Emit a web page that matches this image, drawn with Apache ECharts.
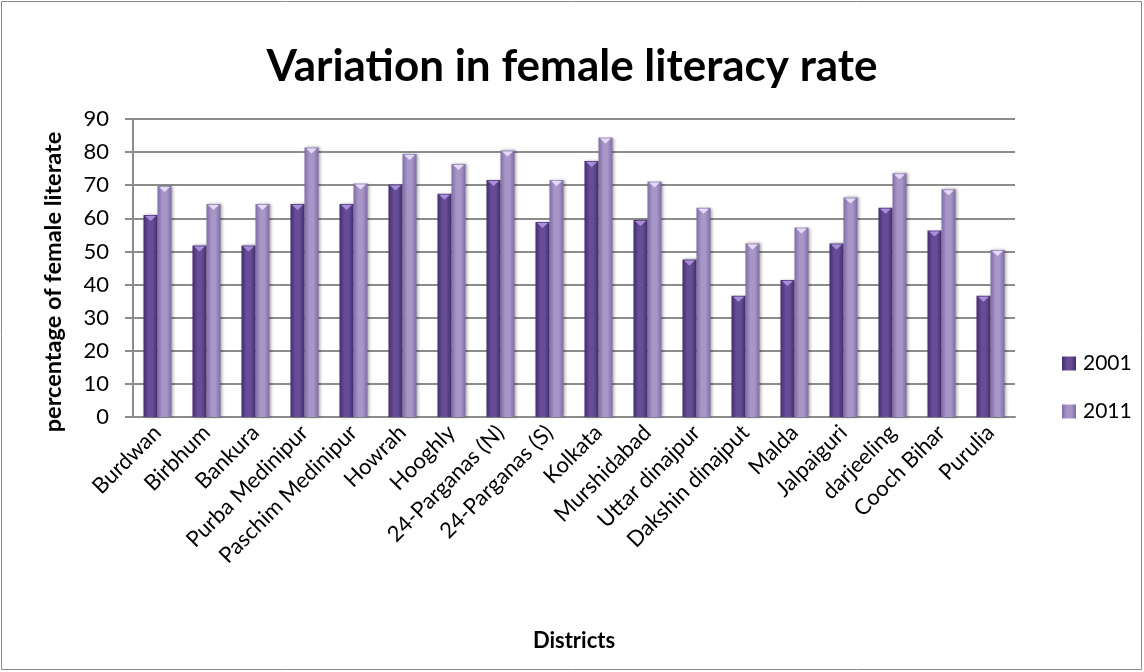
<!DOCTYPE html>
<html>
<head>
<meta charset="utf-8">
<script src="https://cdn.jsdelivr.net/npm/echarts@6/dist/echarts.min.js"></script>
<style>
  html, body { margin: 0; padding: 0; background: #fff; }
  #chart { width: 1144px; height: 672px; }
</style>
</head>
<body>
<div id="chart"></div>
<script>
// Districts of West Bengal
const districts = [
  'Burdwan', 'Birbhum', 'Bankura', 'Purba Medinipur', 'Paschim Medinipur',
  'Howrah', 'Hooghly', '24-Parganas (N)', '24-Parganas (S)', 'Kolkata',
  'Murshidabad', 'Uttar dinajpur', 'Dakshin dinajput', 'Malda', 'Jalpaiguri',
  'darjeeling', 'Cooch Bihar', 'Purulia'
];

// Female literacy rate (%) by census year
const rate2001 = [61.0, 51.8, 51.8, 64.3, 64.3, 70.2, 67.4, 71.6, 58.9, 77.3,
                  59.5, 47.6, 36.6, 41.4, 52.4, 63.2, 56.3, 36.6];
const rate2011 = [69.8, 64.3, 64.3, 81.4, 70.5, 79.4, 76.4, 80.5, 71.6, 84.4,
                  71.1, 63.2, 52.4, 57.2, 66.3, 73.6, 68.8, 50.4];

const seriesNames = ['2001', '2011'];
const yTicks = { min: 0, max: 90, interval: 10 };

const FONT = 'Lato, "Open Sans", sans-serif';

function bevel(edge, mid) {
  return new echarts.graphic.LinearGradient(0, 0, 1, 0, [
    { offset: 0, color: edge },
    { offset: 0.35, color: mid },
    { offset: 0.65, color: mid },
    { offset: 1, color: edge }
  ]);
}

const fill2001 = bevel('#432d6c', '#674c98');
const fill2011 = bevel('#7f6ca3', '#a896c8');

const chart = echarts.init(document.getElementById('chart'));

function barSeries(name, data, fill) {
  return {
    name: name,
    type: 'bar',
    data: data,
    barWidth: 14,
    barGap: '0%',
    itemStyle: {
      color: fill,
      shadowColor: 'rgba(0,0,0,0.35)',
      shadowBlur: 3,
      shadowOffsetX: 1.5,
      shadowOffsetY: 0
    },
    z: 2
  };
}

// small downward caps at the top of each bar
function capSeries(data, color, dx) {
  return {
    type: 'pictorialBar',
    data: data,
    symbol: 'triangle',
    symbolRotate: 180,
    symbolSize: [11, 5],
    symbolPosition: 'end',
    symbolOffset: [dx, 1],
    itemStyle: { color: color },
    silent: true,
    z: 3
  };
}

chart.setOption({
  animation: false,
  backgroundColor: '#ffffff',
  graphic: [{
    type: 'rect',
    shape: { x: 1.5, y: 1.5, width: 1140, height: 668 },
    style: { fill: 'none', stroke: '#8a8a8a', lineWidth: 1 },
    silent: true
  }],
  title: {
    text: 'Variation in female literacy rate',
    left: 'center',
    top: 40,
    textStyle: { fontFamily: FONT, fontWeight: 'bold', fontSize: 44, color: '#000' }
  },
  legend: {
    data: seriesNames,
    orient: 'vertical',
    left: 1057,
    top: 348,
    icon: 'rect',
    itemWidth: 14,
    itemHeight: 14,
    itemGap: 27,
    textStyle: { fontFamily: FONT, fontSize: 21, color: '#000', padding: [0, 0, 0, 2] }
  },
  grid: { left: 133, right: 129, top: 119, bottom: 255, containLabel: false },
  xAxis: {
    type: 'category',
    data: districts,
    name: 'Districts',
    nameLocation: 'middle',
    nameGap: 213,
    nameTextStyle: { fontFamily: FONT, fontWeight: 'bold', fontSize: 22, color: '#000' },
    axisLine: { lineStyle: { color: '#8c8c8c', width: 2 } },
    axisTick: { show: false },
    axisLabel: {
      rotate: 45,
      interval: 0,
      margin: 12,
      fontFamily: FONT,
      fontSize: 22,
      color: '#000'
    }
  },
  yAxis: {
    type: 'value',
    min: yTicks.min,
    max: yTicks.max,
    interval: yTicks.interval,
    name: 'percentage of female literate',
    nameLocation: 'middle',
    nameGap: 68,
    nameTextStyle: {
      fontFamily: FONT, fontWeight: 'bold', fontSize: 23.5, color: '#000',
      padding: [0, 28, 0, 0]
    },
    axisLine: { show: true, lineStyle: { color: '#8c8c8c', width: 2 } },
    axisTick: { show: true, length: 8, lineStyle: { color: '#8c8c8c', width: 2 } },
    axisLabel: { margin: 24, fontFamily: FONT, fontSize: 22, color: '#000' },
    splitLine: { lineStyle: { color: '#8c8c8c', width: 2 } }
  },
  series: [
    barSeries(seriesNames[0], rate2001, fill2001),
    barSeries(seriesNames[1], rate2011, fill2011),
    capSeries(rate2001, '#a98fd8', -7),
    capSeries(rate2011, '#e4d9f7', 7)
  ]
});
</script>
</body>
</html>
